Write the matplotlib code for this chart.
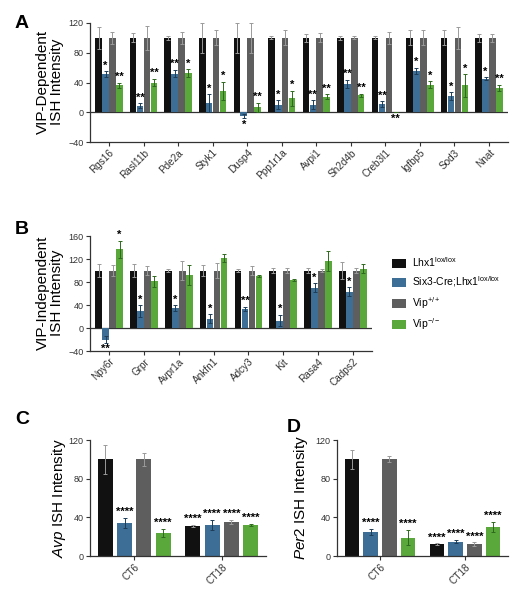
import numpy as np
import matplotlib
matplotlib.use("Agg")
import matplotlib.pyplot as plt
from matplotlib.patches import Patch

plt.rcParams['font.family'] = ['Liberation Sans', 'DejaVu Sans']
plt.rcParams['mathtext.fontset'] = 'custom'
plt.rcParams['mathtext.rm'] = 'Liberation Sans'
plt.rcParams['mathtext.it'] = 'Liberation Sans:italic'

# ---- data ----
series_names = ['Lhx1$^{\\mathrm{lox/lox}}$', 'Six3-Cre;Lhx1$^{\\mathrm{lox/lox}}$',
                'Vip$^{\\mathrm{+/+}}$', 'Vip$^{\\mathrm{-/-}}$']
colors = ['#111111', '#3d6e96', '#5e5e5e', '#5aa83c']
err_colors = ['#9a9a9a', '#1e3d58', '#9a9a9a', '#2e6a1e']

genes_a = ['Rgs16', 'Rasl11b', 'Pde2a', 'Styk1', 'Dusp4', 'Ppp1r1a', 'Avpi1',
           'Sh2d4b', 'Creb3l1', 'Igfbp5', 'Sod3', 'Nnat']
a_black = [100] * 12
a_blue = [51, 9, 52, 12, -5, 10, 10, 38, 11, 56, 22, 45]
a_gray = [100] * 12
a_green = [36, 40, 53, 29, 7, 19, 21, 23, 0, 37, 36, 33]
a_black_err = [15, 6, 3, 20, 20, 2, 5, 3, 2, 10, 10, 5]
a_blue_err = [4, 3, 5, 12, 3, 6, 6, 6, 4, 4, 5, 2]
a_gray_err = [8, 16, 8, 10, 20, 10, 6, 2, 8, 10, 15, 5]
a_green_err = [4, 5, 5, 12, 6, 10, 3, 2, 0, 5, 15, 4]
a_blue_sig = ['*', '**', '**', '*', '*', '*', '**', '**', '**', '*', '*', '*']
a_green_sig = ['**', '**', '*', '*', '**', '*', '**', '**', '**', '*', '*', '**']

genes_b = ['Npy6r', 'Grpr', 'Avpr1a', 'Ankfn1', 'Adcy3', 'Kit', 'Rasa4', 'Cadps2']
b_black = [100] * 8
b_blue = [-20, 30, 35, 16, 33, 13, 70, 63]
b_gray = [100] * 8
b_green = [137, 81, 92, 121, 91, 84, 117, 103]
b_black_err = [12, 12, 3, 10, 3, 5, 4, 15]
b_blue_err = [6, 10, 5, 8, 4, 10, 8, 8]
b_gray_err = [10, 8, 16, 13, 8, 4, 3, 4]
b_green_err = [15, 9, 18, 7, 2, 2, 17, 8]
b_blue_sig = ['**', '*', '*', '*', '**', '*', '*', '*']
b_green_sig = ['*', '', '', '', '', '', '', '']

times = ['CT6', 'CT18']
c_vals = [[100, 31], [34, 32], [100, 35], [24, 32]]
c_errs = [[15, 1], [5, 5], [7, 2], [4, 1]]
c_sig = [['', '****'], ['****', '****'], ['', '****'], ['****', '****']]
d_vals = [[100, 12], [25, 15], [100, 12], [19, 30]]
d_errs = [[10, 1], [3, 2], [3, 2], [8, 5]]
d_sig = [['', '****'], ['****', '****'], ['', '****'], ['****', '****']]

W, H = 528, 601


def px_axes(fig, left, top, right, bottom):
    return fig.add_axes([left / W, 1 - bottom / H, (right - left) / W, (bottom - top) / H])


def style_axes(ax):
    for s in ['top', 'right']:
        ax.spines[s].set_visible(False)
    for s in ['left', 'bottom']:
        ax.spines[s].set_linewidth(0.9)
        ax.spines[s].set_color('#333333')
    ax.tick_params(axis='y', labelsize=6.5, length=3, width=0.8, pad=1.5, colors='#333333')
    ax.tick_params(axis='x', length=3, width=0.8, pad=1, colors='#333333')


def gene_panel(ax, genes, vals, errs, sigs, ylim, yticks):
    x = np.arange(len(genes))
    offs = [-0.3, -0.1, 0.1, 0.3]
    span = ylim[1] - ylim[0]
    for k in range(4):
        xs = x + offs[k]
        ax.bar(xs, vals[k], width=0.19, color=colors[k], zorder=2)
        ax.errorbar(xs, vals[k], yerr=errs[k], fmt='none', ecolor=err_colors[k],
                    elinewidth=0.7, capsize=1.2, capthick=0.7, zorder=3)
        if sigs[k] is None:
            continue
        for xi, v, e, s in zip(xs, vals[k], errs[k], sigs[k]):
            if not s:
                continue
            if v > 0:
                ax.text(xi, v + e + span * 0.005, s, ha='center', va='bottom',
                        fontsize=8, fontweight='bold', zorder=4)
            else:
                ax.text(xi, v - e - span * 0.01, s, ha='center', va='top',
                        fontsize=8, fontweight='bold', zorder=4)
    ax.axhline(0, color='#333333', lw=0.9, zorder=1)
    ax.set_xlim(-0.55, len(genes) - 0.45)
    ax.set_ylim(*ylim)
    ax.set_yticks(yticks)
    ax.set_xticks(x)
    ax.set_xticklabels(genes, rotation=45, ha='right', rotation_mode='anchor', fontsize=7.2)
    style_axes(ax)


def time_panel(ax, vals, errs, sigs):
    x = np.arange(len(times))
    offs = [-0.33, -0.11, 0.11, 0.33]
    for k in range(4):
        xs = x + offs[k]
        ax.bar(xs, vals[k], width=0.17, color=colors[k], zorder=2)
        ax.errorbar(xs, vals[k], yerr=errs[k], fmt='none', ecolor=err_colors[k],
                    elinewidth=0.7, capsize=1.2, capthick=0.7, zorder=3)
        for xi, v, e, s in zip(xs, vals[k], errs[k], sigs[k]):
            if s:
                ax.text(xi, v + e + 1, s, ha='center', va='bottom',
                        fontsize=8, fontweight='bold', zorder=4)
    ax.set_ylim(0, 120)
    ax.set_yticks([0, 40, 80, 120])
    ax.set_xticks(x)
    ax.set_xticklabels(times, rotation=45, ha='right', rotation_mode='anchor', fontsize=7.2)
    style_axes(ax)


fig = plt.figure(figsize=(W / 100, H / 100), dpi=100)

# Panel A
ax_a = px_axes(fig, 90, 23, 508, 142)
gene_panel(ax_a, genes_a, [a_black, a_blue, a_gray, a_green],
           [a_black_err, a_blue_err, a_gray_err, a_green_err],
           [None, a_blue_sig, None, a_green_sig], (-40, 120), [-40, 0, 40, 80, 120])

# Panel B
ax_b = px_axes(fig, 90, 236, 372, 351)
gene_panel(ax_b, genes_b, [b_black, b_blue, b_gray, b_green],
           [b_black_err, b_blue_err, b_gray_err, b_green_err],
           [None, b_blue_sig, None, b_green_sig], (-40, 160), [-40, 0, 40, 80, 120, 160])

handles = [Patch(facecolor=c) for c in colors]
fig.legend(handles, series_names, loc='upper left', bbox_to_anchor=(392 / W, 1 - 255 / H),
           frameon=False, fontsize=7.5, handlelength=1.3, handleheight=0.9,
           labelspacing=0.55, handletextpad=0.6, borderaxespad=0, borderpad=0)

# Panel C and D
ax_c = px_axes(fig, 90, 440, 266, 556)
time_panel(ax_c, c_vals, c_errs, c_sig)
ax_d = px_axes(fig, 337, 440, 508, 556)
time_panel(ax_d, d_vals, d_errs, d_sig)

# y labels
fig.text(50 / W, 1 - 82 / H, 'VIP-Dependent\nISH Intensity', rotation=90, ha='center',
         va='center', fontsize=11, linespacing=1.0)
fig.text(50 / W, 1 - 293 / H, 'VIP-Independent\nISH Intensity', rotation=90, ha='center',
         va='center', fontsize=11, linespacing=1.0)
fig.text(59 / W, 1 - 498 / H, '$\\mathit{Avp}$ ISH Intensity', rotation=90, ha='center',
         va='center', fontsize=11)
fig.text(301 / W, 1 - 498 / H, '$\\mathit{Per2}$ ISH Intensity', rotation=90, ha='center',
         va='center', fontsize=11)

# panel letters
for lab, (px, py) in zip('ABCD', [(22, 23), (22, 230), (22, 420), (294, 428)]):
    fig.text(px / W, 1 - py / H, lab, ha='center', va='center', fontsize=14, fontweight='bold')

fig.savefig('out.png', dpi=100)
